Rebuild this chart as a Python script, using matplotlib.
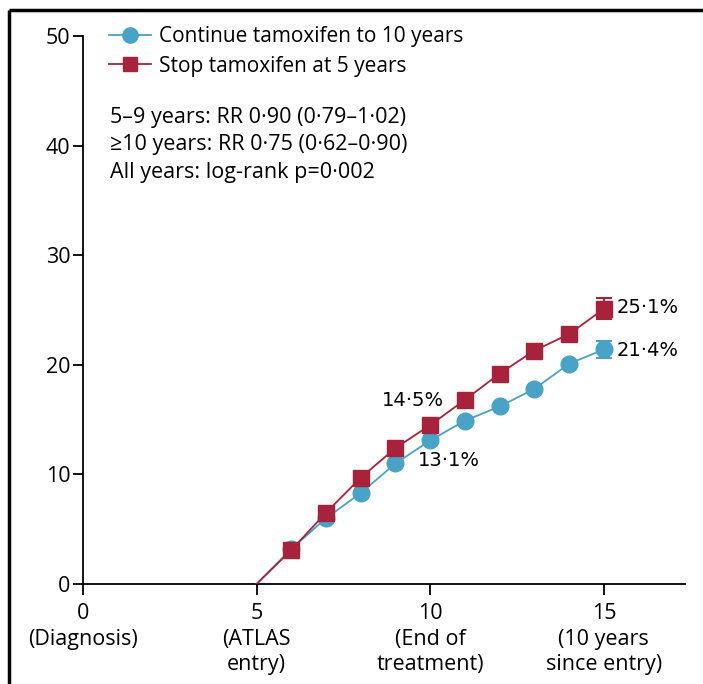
import numpy as np
import matplotlib.pyplot as plt
from matplotlib.lines import Line2D

plt.rcParams['font.family'] = ['Open Sans', 'DejaVu Sans']

# 随访年份（从诊断算起）
years = [5, 6, 7, 8, 9, 10, 11, 12, 13, 14, 15]
# 累计复发率 %
continue_10y = [0, 3.2, 6.0, 8.3, 11.0, 13.1, 14.9, 16.2, 17.8, 20.1, 21.4]
stop_5y = [0, 3.1, 6.5, 9.7, 12.4, 14.5, 16.8, 19.2, 21.3, 22.8, 25.1]
# 第15年的误差线（下限, 上限）
continue_ci = (20.6, 22.2)
stop_ci = (24.2, 26.1)

xticks = [0, 5, 10, 15]
xticklabels = ["0\n(Diagnosis)", "5\n(ATLAS\nentry)", "10\n(End of\ntreatment)", "15\n(10 years\nsince entry)"]
yticks = [0, 10, 20, 30, 40, 50]

blue = "#49a3c6"
red = "#a8223b"

fig = plt.figure(figsize=(7.03, 6.84), dpi=100)
ax = fig.add_axes([0.118, 0.1462, 0.856, 0.8011])

ax.plot(years, continue_10y, color=blue, lw=1.3, marker="o", ms=12, mec=blue, mfc=blue,
        markevery=list(range(1, len(years))), zorder=3)
ax.plot(years, stop_5y, color=red, lw=1.3, marker="s", ms=11, mec=red, mfc=red,
        markevery=list(range(1, len(years))), zorder=4)

# 误差线
for ci, y, c in [(continue_ci, continue_10y[-1], blue), (stop_ci, stop_5y[-1], red)]:
    ax.errorbar([years[-1]], [y], yerr=[[y - ci[0]], [ci[1] - y]], color=c, lw=1.5,
                capsize=6, capthick=1.5, fmt="none", zorder=5)

# 数值标注
ax.text(10.39, 16.7, "14·5%", ha="right", va="center", fontsize=14, family="DejaVu Sans")
ax.text(9.65, 11.3, "13·1%", ha="left", va="center", fontsize=14, family="DejaVu Sans")
ax.text(15.37, 25.2, "25·1%", ha="left", va="center", fontsize=14, family="DejaVu Sans")
ax.text(15.37, 21.35, "21·4%", ha="left", va="center", fontsize=14, family="DejaVu Sans")

handles = [Line2D([], [], color=blue, lw=1.3, marker="o", ms=11),
           Line2D([], [], color=red, lw=1.3, marker="s", ms=10)]
ax.legend(handles, ["Continue tamoxifen to 10 years", "Stop tamoxifen at 5 years"],
          loc="upper left", bbox_to_anchor=(0.03, 1.033), frameon=False, fontsize=15,
          handlelength=2.0, handletextpad=0.4, labelspacing=0.4, borderaxespad=0)

ax.text(0.045, 0.871, "5–9 years: RR 0·90 (0·79–1·02)\n≥10 years: RR 0·75 (0·62–0·90)\nAll years: log-rank p=0·002",
        transform=ax.transAxes, ha="left", va="top", fontsize=15.5, linespacing=1.4)

ax.set_xlim(0, 17.33)
ax.set_ylim(0, 50)
ax.set_xticks(xticks)
ax.set_xticklabels(xticklabels, fontsize=15.5, linespacing=1.28)
ax.set_yticks(yticks)
ax.tick_params(axis="y", labelsize=15.5, length=7, width=1.3, direction="out", pad=2)
ax.tick_params(axis="x", length=8, width=1.3, direction="out", pad=6)
for s in ["top", "right"]:
    ax.spines[s].set_visible(False)
for s in ["left", "bottom"]:
    ax.spines[s].set_linewidth(1.3)

# 外框（左、上）
fig.add_artist(Line2D([0.013, 1.0], [0.985, 0.985], color="black", lw=2.5,
                      solid_capstyle="butt", transform=fig.transFigure))
fig.add_artist(Line2D([0.013, 0.013], [0.0, 0.985], color="black", lw=2.5,
                      solid_capstyle="butt", transform=fig.transFigure))

fig.savefig("out.png", dpi=100)
